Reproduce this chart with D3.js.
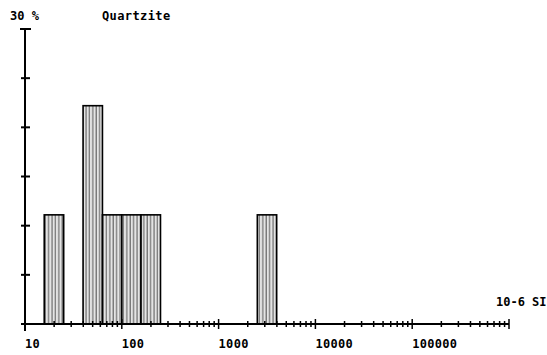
<!DOCTYPE html>
<html>
<head>
<meta charset="utf-8">
<script src="https://cdn.jsdelivr.net/npm/d3@7"></script>
<style>
  body { margin: 0; background: #fff; }
  text { font-family: "DejaVu Sans Mono", monospace; font-weight: bold; fill: #000; }
</style>
</head>
<body>
<svg id="chart" width="547" height="355"></svg>
<script>
// bins on a log susceptibility axis (10-6 SI), 0.2 decade wide
var binStart = [15.8, 39.8, 63.1, 100, 158, 2512];
var binEnd   = [25.1, 63.1, 100, 158, 251, 3981];
var percent  = [11.1, 22.2, 11.1, 11.1, 11.1, 11.1];

var xLabels = [10, 100, 1000, 10000, 100000];
var yTicks = [0, 5, 10, 15, 20, 25, 30];

var svg = d3.select('#chart');

var x = d3.scaleLog().domain([10, 1e6]).range([25, 509]);
var y = d3.scaleLinear().domain([0, 30]).range([324, 29]);

// vertical hatching used inside the bars
var pat = svg.append('defs').append('pattern')
    .attr('id', 'hatch')
    .attr('patternUnits', 'userSpaceOnUse')
    .attr('width', 3.4).attr('height', 7);
pat.append('rect').attr('width', 3.4).attr('height', 7).attr('fill', '#e4e4e4');
pat.append('line')
    .attr('x1', 1).attr('x2', 1).attr('y1', 0).attr('y2', 7)
    .attr('stroke', '#555').attr('stroke-width', 1);

var bins = binStart.map((s, i) => ({s: s, e: binEnd[i], v: percent[i]}));

svg.selectAll('rect.bar')
  .data(bins)
  .enter()
  .append('rect')
    .attr('class', 'bar')
    .attr('x', d => x(d.s))
    .attr('y', d => y(d.v))
    .attr('width', d => x(d.e) - x(d.s))
    .attr('height', d => y(0) - y(d.v))
    .attr('fill', 'url(#hatch)')
    .attr('stroke', '#000')
    .attr('stroke-width', 1.6);

// y axis
svg.append('line')
    .attr('x1', x(10)).attr('x2', x(10))
    .attr('y1', y(30)).attr('y2', y(0) + 7)
    .attr('stroke', '#000').attr('stroke-width', 2);
svg.selectAll('line.ytick')
  .data(yTicks)
  .enter()
  .append('line')
    .attr('class', 'ytick')
    .attr('x1', d => x(10) - (d == 30 ? 5 : 4))
    .attr('x2', d => x(10) + (d == 30 ? 6 : 5))
    .attr('y1', d => y(d)).attr('y2', d => y(d))
    .attr('stroke', '#000').attr('stroke-width', 2);

// x axis, ticks crossing the line
svg.append('line')
    .attr('x1', x(10) - 3).attr('x2', x(1e6))
    .attr('y1', y(0)).attr('y2', y(0))
    .attr('stroke', '#000').attr('stroke-width', 2);

var allTicks = x.ticks();
svg.selectAll('line.xtick')
  .data(allTicks)
  .enter()
  .append('line')
    .attr('class', 'xtick')
    .attr('x1', d => x(d)).attr('x2', d => x(d))
    .attr('y1', d => y(0) - (xLabels.includes(d) || d == 1e6 ? 5 : 3))
    .attr('y2', d => y(0) + (xLabels.includes(d) || d == 1e6 ? 5 : 3))
    .attr('stroke', '#000').attr('stroke-width', 1.5);

svg.selectAll('text.xlab')
  .data(xLabels)
  .enter()
  .append('text')
    .attr('class', 'xlab')
    .attr('x', d => x(d))
    .attr('y', 348)
    .attr('font-size', 12)
    .attr('letter-spacing', 0.3)
    .text(d => d);

svg.append('text').attr('x', 10).attr('y', 20).attr('font-size', 12).text('30 %');
svg.append('text').attr('x', 102).attr('y', 20).attr('font-size', 12)
    .attr('letter-spacing', 0.4).text('Quartzite');
svg.append('text').attr('x', 496).attr('y', 306).attr('font-size', 12).text('10-6 SI');
</script>
</body>
</html>
